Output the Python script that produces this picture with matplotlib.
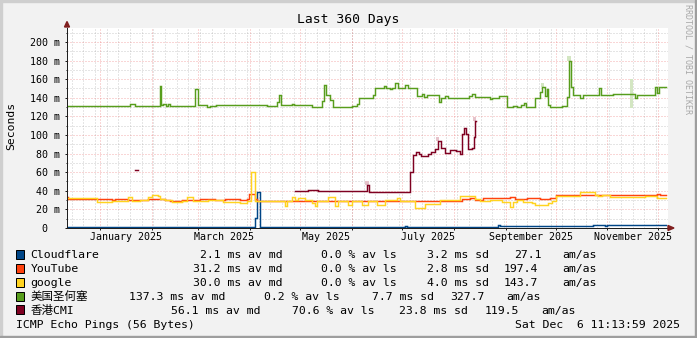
import datetime as dt
import numpy as np
import matplotlib
matplotlib.use('Agg')
import matplotlib.pyplot as plt
from matplotlib.patches import Rectangle, Polygon

plt.rcParams['font.family'] = ['DejaVu Sans Mono', 'Noto Sans CJK SC']

W, H = 697, 338
start = dt.datetime(2024, 12, 12, 6, 0)
span = 360
nan = np.nan

# step series: day offset from start, median rtt in ms
cf_day = [0.0, 112.6, 113.8, 115.9, 202.5, 203.7, 258.0, 259.4, 315.1, 322.3, 323.5, 358.8]
cf_ms = [0.8, 10.5, 38.5, 0.8, 2.0, 0.8, 2.8, 2.0, 3.2, 1.8, 3.2, 3.2]

yt_day = [0.0, 0.6, 27.0, 28.8, 36.5, 43.7, 48.5, 58.7, 61.7, 68.9, 73.7, 79.7, 88.7, 94.6,
          103.6, 107.8, 109.0, 112.6, 113.8, 139.6, 151.5, 166.5, 175.5, 199.5, 217.4, 236.6,
          241.4, 244.4, 249.2, 265.4, 268.4, 275.5, 283.3, 289.3, 292.9, 307.3, 317.5, 325.3,
          330.0, 353.4, 355.2, 358.8]
yt_ms = [33, 31.3, 30.3, 31.3, 30, 30.5, 31.5, 30.5, 29.5, 30.5, 30, 31, 30, 31,
         30.5, 31.5, 36.5, 31, 28.8, 29.3, 28.8, 29.5, 29, 29.5, 29, 31,
         32, 30.5, 32, 33.5, 31.5, 32.5, 31.5, 32, 35.5, 35, 36, 35,
         36, 37, 36, 36]

go_day = [0.0, 18.0, 27.0, 36.5, 38.9, 43.7, 48.5, 50.9, 54.5, 55.7, 58.7, 62.9, 68.9, 71.9,
          75.5, 84.5, 93.4, 103.6, 107.8, 110.0, 112.6, 130.6, 131.8, 134.8, 136.6, 138.4,
          142.6, 146.8, 148.6, 149.8, 156.3, 160.5, 162.3, 168.3, 170.7, 176.7, 180.3, 185.7,
          190.5, 197.7, 199.5, 208.5, 214.4, 223.4, 235.4, 244.4, 247.4, 253.4, 260.6, 265.4,
          267.2, 269.6, 273.1, 278.5, 280.3, 288.1, 290.5, 292.9, 307.3, 316.3, 318.1, 320.5,
          325.3, 346.2, 353.4, 358.8]
go_ms = [32, 27.6, 29.5, 33, 29, 30, 33, 36, 34, 31, 30, 28, 29, 33,
         29, 30, 28, 27, 28.5, 60, 29.5, 24, 29, 33, 30, 32.5,
         30, 27, 23.5, 29, 33, 24, 29.5, 24.5, 29.5, 24.5, 29.5, 24.5,
         30, 32.5, 29.5, 22, 26, 30, 34.5, 31, 29, 30, 27.6, 23,
         28, 30, 28, 27, 24.5, 27, 28.5, 34.8, 38.5, 35.5, 34, 36,
         33.5, 34, 32.5, 32.5]

sj_day = [0.0, 37.7, 40.7, 55.7, 56.3, 57.5, 59.3, 60.5, 61.7, 76.7, 78.5, 83.9, 85.7, 89.3,
          119.8, 125.8, 127.0, 128.2, 134.8, 136.0, 146.8, 152.7, 153.9, 155.1, 157.5, 159.3,
          170.7, 173.7, 174.9, 183.3, 184.5, 189.9, 191.1, 193.5, 194.7, 196.5, 198.3, 202.5,
          204.3, 209.7, 212.6, 213.8, 215.6, 222.8, 224.0, 226.4, 228.2, 240.8, 242.6, 244.4,
          253.4, 254.6, 258.8, 263.6, 267.2, 269.6, 272.0, 273.7, 274.9, 280.3, 283.3, 284.8,
          286.3, 287.5, 288.4, 289.3, 296.5, 299.5, 300.7, 301.9, 302.8, 307.3, 309.1, 318.7,
          319.9, 327.1, 340.2, 341.4, 352.2, 353.4, 354.6, 358.8]
sj_ms = [131, 133, 131, 153, 132, 133.5, 131, 133, 131, 149, 132, 130, 131, 132.5,
         131, 135, 143, 132, 133.5, 132, 130, 136, 154, 143, 138, 130,
         131, 133.5, 140, 143, 151, 153, 151, 149, 151, 156, 151, 153.5,
         151, 142, 143.7, 141, 142.5, 135, 139.5, 142, 139.5, 142, 144.5, 141,
         139, 140, 142, 130, 131, 130, 132, 134, 130.5, 140, 146, 152,
         142, 149, 132, 130.5, 131, 141, 179.5, 152, 143, 140, 142.5, 151,
         142.5, 144, 139.5, 143, 152, 145, 152, 152]

hk_day = [40.7, 42.5, 136.6, 144.4, 150.3, 157.5, 179.7, 180.9, 205.5, 207.1, 209.1, 210.8,
          212.0, 216.2, 218.0, 220.4, 222.2, 224.0, 226.4, 229.4, 233.0, 235.4, 236.6, 237.8,
          239.0, 240.2, 242.6, 243.5, 244.1, 245.0]
hk_ms = [62, nan, 39.5, 41, 39.5, 40, 46, 39, 60.5, 78, 82, 80,
         77.5, 80, 82, 85, 94, 86, 81, 84, 83, 80, 101, 107,
         101, 85, 86, 98, 115, 115]

# faint smoke (spread) spots
smoke_day = [338.2, 300.7, 284.8, 179.7, 222.2, 244.1]
smoke_lo = [129, 179.5, 152, 46, 94, 115]
smoke_hi = [160, 185, 156, 51, 98, 119]
smoke_src = [3, 3, 3, 4, 4, 4]

names = ['Cloudflare', 'YouTube', 'google', '美国圣何塞', '香港CMI']
colors = ['#004586', '#ff420e', '#ffd320', '#579d1c', '#7e0021']
smoke_colors = ['#c9c9c9', '#c9c9c9', '#c9c9c9', '#d3e6c2', '#e6c3cb']
series = [(cf_day, cf_ms), (yt_day, yt_ms), (go_day, go_ms), (sj_day, sj_ms), (hk_day, hk_ms)]

med_txt = ['2.1 ms av md', '31.2 ms av md', '30.0 ms av md', '137.3 ms av md', '56.1 ms av md']
loss_txt = ['0.0 % av ls', '0.0 % av ls', '0.0 % av ls', '0.2 % av ls', '70.6 % av ls']
sd_txt = ['3.2 ms sd', '2.8 ms sd', '4.0 ms sd', '7.7 ms sd', '23.8 ms sd']
amas_txt = ['27.1', '197.4', '143.7', '327.7', '119.5']

# legend column x positions (px), differ per row like rrdtool's padding
med_x = [200, 193.3, 193.3, 129.3, 171]
loss_x = [320.7, 320.7, 320.7, 264.3, 291.7]
sd_x = [427.3, 427.3, 427.3, 371.7, 399.3]
amas_x = [514, 503.3, 503.3, 450, 485]
unit_x = [562.7, 562.7, 562.7, 506, 541.7]


def fx(x):
    return x / W


def fy(y):
    return 1 - y / H


def days(t):
    return (t - start).total_seconds() / 86400.0


fig = plt.figure(figsize=(W / 100, H / 100), dpi=100, facecolor='#f2f2f2')
ax = fig.add_axes([fx(67), 110 / H, 601 / W, 200 / H])
ax.set_facecolor('white')
ax.set_xlim(0, span)
ax.set_ylim(0, 215)

px = 0.72  # one pixel in points
grid_c = (0.56, 0.56, 0.56, 0.45)
mgrid_c = (0.9, 0.3, 0.3, 0.45)
dots = (0, (1, 2))

# horizontal grid
for v in range(10, 211, 10):
    if v % 20 == 0:
        ax.axhline(v, color=mgrid_c, lw=px, ls=dots, zorder=0.6)
    else:
        ax.axhline(v, color=grid_c, lw=px, ls=dots, zorder=0.5)

# vertical grid: sundays (minor), month starts (major)
sun = dt.datetime(2024, 12, 15)
while days(sun) < span:
    ax.axvline(days(sun), color=grid_c, lw=px, ls=dots, zorder=0.5)
    sun += dt.timedelta(days=7)

month_starts = [dt.datetime(2025, m, 1) for m in range(1, 13)]
for m in month_starts:
    ax.axvline(days(m), color=mgrid_c, lw=px, ls=dots, zorder=0.6)

lab_pos, lab_txt = [], []
for m in range(1, 12, 2):
    a = dt.datetime(2025, m, 1)
    b = dt.datetime(2025, m + 1, 1)
    lab_pos.append((days(a) + days(b)) / 2)
    lab_txt.append(a.strftime('%B %Y'))
ax.set_xticks(lab_pos, lab_txt)
ax.set_xticks([days(m) for m in month_starts], minor=True)
ax.tick_params(axis='x', which='major', length=0, pad=3.2, labelsize=7.2)
ax.tick_params(axis='x', which='minor', length=2 * px, width=px, color='#1f1f1f')

yt = list(range(0, 201, 20))
ax.set_yticks(yt, ['0  '] + ['%d m' % v for v in yt[1:]])
ax.set_yticks(list(range(10, 211, 20)), minor=True)
ax.tick_params(axis='y', which='major', length=2 * px, width=px, color='#1f1f1f', pad=3.6,
               labelsize=7.2)
ax.tick_params(axis='y', which='minor', length=1 * px, width=px, color='#1f1f1f')

for s in ['top', 'right']:
    ax.spines[s].set_visible(False)
for s in ['left', 'bottom']:
    ax.spines[s].set_color('#1f1f1f')
    ax.spines[s].set_linewidth(px)
    ax.spines[s].set_zorder(8)

# smoke
for d, lo, hi, k in zip(smoke_day, smoke_lo, smoke_hi, smoke_src):
    ax.bar(d, hi - lo, bottom=lo, width=1.8, color=smoke_colors[k], linewidth=0, zorder=1)

for i, (d, v) in enumerate(series):
    ax.plot(d, v, drawstyle='steps-post', color=colors[i], lw=1.05, zorder=2 + i,
            solid_joinstyle='miter')

# axis arrows
fig.patches.append(Polygon([(fx(64.5), fy(27)), (fx(69.5), fy(27)), (fx(67), fy(21.5))],
                           closed=True, transform=fig.transFigure, color='#801f1f', zorder=9))
fig.patches.append(Polygon([(fx(668), fy(225.5)), (fx(668), fy(230.5)), (fx(674), fy(228))],
                           closed=True, transform=fig.transFigure, color='#801f1f', zorder=9))

# 3d frame
fig.patches.append(Rectangle((0, fy(2)), 1, 2 / H, transform=fig.transFigure, color='#cfcfcf'))
fig.patches.append(Rectangle((0, 0), 2 / W, 1, transform=fig.transFigure, color='#cfcfcf'))
fig.patches.append(Rectangle((0, 0), 1, 2 / H, transform=fig.transFigure, color='#9e9e9e'))
fig.patches.append(Rectangle((fx(695), 0), 2 / W, 1, transform=fig.transFigure, color='#9e9e9e'))

fig.text(fx(348), fy(19.5), 'Last 360 Days', ha='center', va='center', fontsize=9.4)
fig.text(fx(11), fy(126), 'Seconds', rotation=90, ha='center', va='center', fontsize=8.2)
fig.text(fx(688), fy(59), 'RRDTOOL / TOBI OETIKER', rotation=270, ha='center', va='center',
         fontsize=6, color='#a8a8a8')

# legend
for i in range(5):
    base = 258 + 13.9 * i
    fig.patches.append(Rectangle((fx(15.5), fy(base + 0.8)), 8 / W, 9 / H,
                                 transform=fig.transFigure, facecolor=colors[i],
                                 edgecolor='black', lw=px))
    fig.text(fx(30.7), fy(base), names[i], va='baseline', fontsize=8.25)
    fig.text(fx(med_x[i]), fy(base), med_txt[i], va='baseline', fontsize=8.25)
    fig.text(fx(loss_x[i]), fy(base), loss_txt[i], va='baseline', fontsize=8.25)
    fig.text(fx(sd_x[i]), fy(base), sd_txt[i], va='baseline', fontsize=8.25)
    fig.text(fx(amas_x[i]), fy(base), amas_txt[i], va='baseline', fontsize=8.25)
    fig.text(fx(unit_x[i]), fy(base), 'am/as', va='baseline', fontsize=8.25)

fig.text(fx(16.3), fy(327.5), 'ICMP Echo Pings (56 Bytes)', va='baseline', fontsize=8.25)
fig.text(fx(680), fy(327.5), 'Sat Dec  6 11:13:59 2025', ha='right', va='baseline',
         fontsize=8.25)

fig.savefig('out.png', dpi=100, facecolor=fig.get_facecolor())
